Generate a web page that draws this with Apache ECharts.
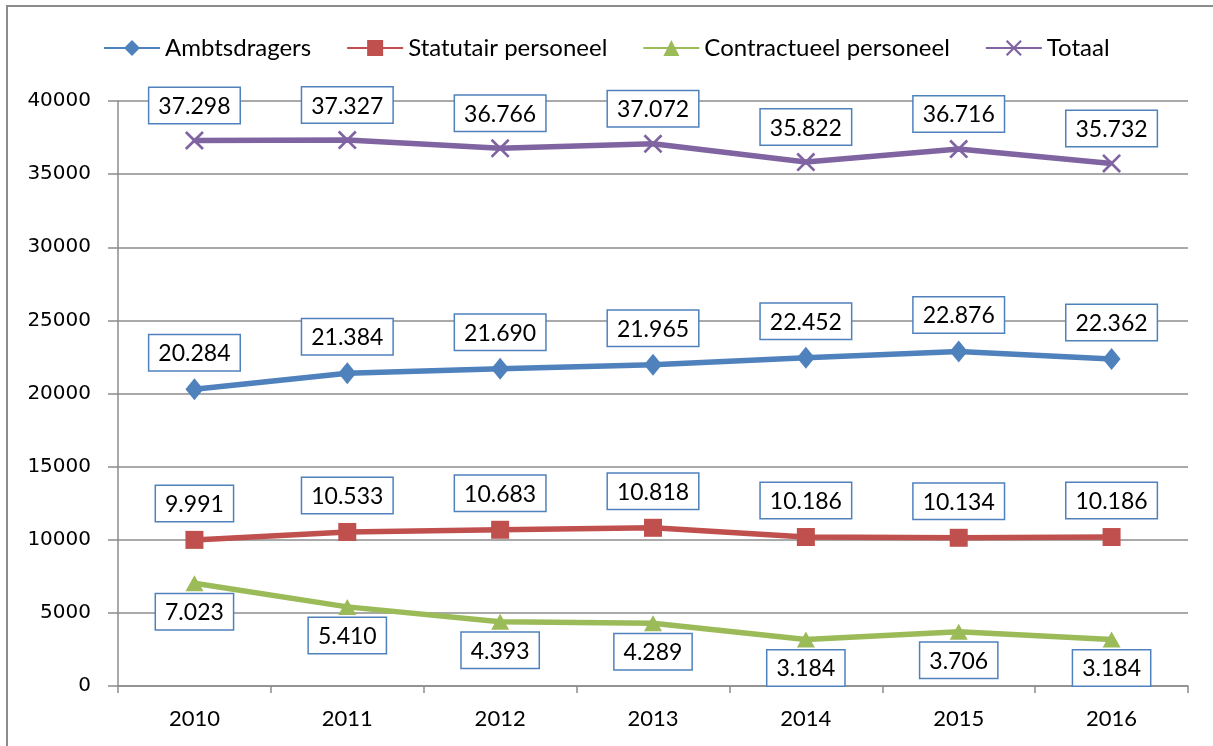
<!DOCTYPE html>
<html>
<head>
<meta charset="utf-8">
<script src="https://cdn.jsdelivr.net/npm/echarts@6/dist/echarts.min.js"></script>
<style>
  html, body { margin: 0; padding: 0; background: #fff; }
  #chart { width: 1213px; height: 746px; }
</style>
</head>
<body>
<div id="chart"></div>
<script>
// Personnel counts per year
const years = ['2010', '2011', '2012', '2013', '2014', '2015', '2016'];
const ambtsdragers = [20284, 21384, 21690, 21965, 22452, 22876, 22362];
const statutair = [9991, 10533, 10683, 10818, 10186, 10134, 10186];
const contractueel = [7023, 5410, 4393, 4289, 3184, 3706, 3184];
const totaal = [37298, 37327, 36766, 37072, 35822, 36716, 35732];
const seriesNames = ['Ambtsdragers', 'Statutair personeel', 'Contractueel personeel', 'Totaal'];
const yTicks = { min: 0, max: 40000, interval: 5000 };

const colors = ['#4F81BD', '#C0504D', '#9BBB59', '#8064A2'];
const crossPath = 'path://M0,1 L1,0 L10,9 L9,10 Z M9,0 L10,1 L1,10 L0,9 Z';

// thousands separator as a dot
function fmt(v) {
  return String(v).replace(/\B(?=(\d{3})+(?!\d))/g, '.');
}

const labelBox = {
  show: true,
  formatter: p => fmt(p.value),
  fontFamily: 'Lato',
  fontSize: 23,
  color: '#000',
  backgroundColor: '#fff',
  borderColor: '#4F81BD',
  borderWidth: 1.5,
  padding: [7, 9, 5, 9]
};

function makeSeries(name, data, color, symbol, symbolSize, labelPos, dist) {
  return {
    name: name,
    type: 'line',
    data: data,
    symbol: symbol,
    symbolSize: symbolSize,
    showAllSymbol: true,
    lineStyle: { color: color, width: 5.5 },
    itemStyle: { color: color },
    label: Object.assign({}, labelBox, { position: labelPos, distance: dist }),
    emphasis: { disabled: true },
    z: 2
  };
}

const chart = echarts.init(document.getElementById('chart'), null, { renderer: 'canvas' });

chart.setOption({
  animation: false,
  backgroundColor: '#fff',
  color: colors,
  graphic: [{
    type: 'rect',
    shape: { x: 7, y: 6, width: 1220, height: 760 },
    style: { fill: 'none', stroke: '#8c8c8c', lineWidth: 2 },
    silent: true,
    z: -1
  }],
  legend: {
    data: seriesNames,
    left: 98,
    top: 31,
    itemWidth: 56,
    itemHeight: 20,
    itemGap: 35,
    textStyle: { fontFamily: 'Lato', fontSize: 24, color: '#000' }
  },
  grid: { left: 118, right: 25, top: 101, bottom: 60, containLabel: false },
  xAxis: {
    type: 'category',
    data: years,
    boundaryGap: true,
    axisLine: { lineStyle: { color: '#8c8c8c', width: 1.5 } },
    axisTick: { show: true, length: 7, lineStyle: { color: '#8c8c8c', width: 1.5 } },
    axisLabel: { fontFamily: 'Lato', fontSize: 22, color: '#000', margin: 22 }
  },
  yAxis: {
    type: 'value',
    min: yTicks.min,
    max: yTicks.max,
    interval: yTicks.interval,
    axisLine: { show: true, lineStyle: { color: '#8c8c8c', width: 1.5 } },
    axisTick: { show: true, inside: false, length: 10, lineStyle: { color: '#8c8c8c', width: 1.5 } },
    axisLabel: { fontFamily: 'DejaVu Sans', fontSize: 20, color: '#000', margin: 27, formatter: v => String(v) },
    splitLine: { show: true, lineStyle: { color: '#8c8c8c', width: 1.5 } }
  },
  series: [
    makeSeries(seriesNames[0], ambtsdragers, colors[0], 'diamond', [18, 22], 'top', 8),
    makeSeries(seriesNames[1], statutair, colors[1], 'rect', 18, 'top', 10),
    makeSeries(seriesNames[2], contractueel, colors[2], 'triangle', [18, 16], 'bottom', 3),
    makeSeries(seriesNames[3], totaal, colors[3], crossPath, 19, 'top', 8)
  ]
});
</script>
</body>
</html>
